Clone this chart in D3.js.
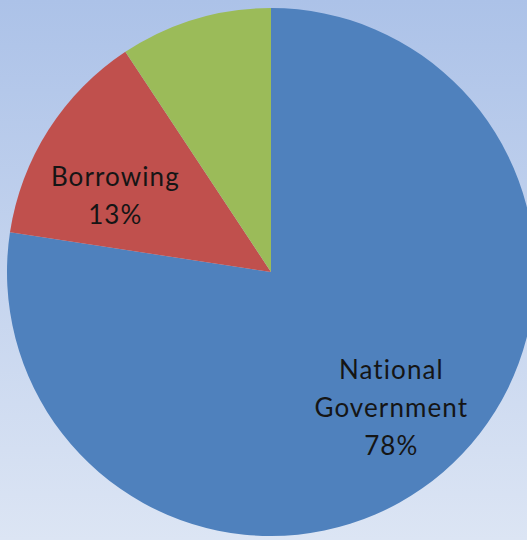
<!DOCTYPE html>
<html>
<head>
<meta charset="utf-8">
<script src="https://cdn.jsdelivr.net/npm/d3@7"></script>
<style>
  html, body { margin: 0; padding: 0; overflow: hidden; }
  svg { display: block; }
</style>
</head>
<body>
<svg id="drawing_region"></svg>
<script>
// slice data (clockwise from 12 o'clock)
const categories = ["National Government", "Borrowing", "Other"];
const values = [77.4, 13.3, 9.3];
const labelLines = [["National", "Government", "78%"], ["Borrowing", "13%"], []];
const colors = ["#4f81bd", "#c0504d", "#9bbb59"];

const config = {
    width: 527,
    height: 540,
    cx: 271,
    cy: 272,
    radius: 264
};

const svg = d3.select('#drawing_region')
    .attr('width', config.width)
    .attr('height', config.height);

const defs = svg.append('defs');
const grad = defs.append('linearGradient')
    .attr('id', 'bg')
    .attr('x1', 0).attr('y1', 0).attr('x2', 0).attr('y2', 1);
grad.append('stop').attr('offset', '0%').attr('stop-color', '#acc2e8');
grad.append('stop').attr('offset', '100%').attr('stop-color', '#dce5f4');

svg.append('rect')
    .attr('width', config.width)
    .attr('height', config.height)
    .attr('fill', 'url(#bg)');

const data = categories.map((c, i) => ({ name: c, value: values[i], lines: labelLines[i], color: colors[i] }));

const pie = d3.pie()
    .value(d => d.value)
    .sort(null);

const arc = d3.arc()
    .innerRadius(0)
    .outerRadius(config.radius);

// labels sit on the slice mid-angle, with a small nudge like Excel's best-fit placement
const labelArc = d3.arc()
    .innerRadius(180)
    .outerRadius(180);
const labelNudge = { "National Government": [3, -1], "Borrowing": [-4, 21] };

const chart = svg.append('g')
    .attr('transform', `translate(${config.cx}, ${config.cy})`);

const arcs = pie(data);

chart.selectAll('path')
    .data(arcs)
    .enter()
    .append('path')
    .attr('d', arc)
    .attr('fill', d => d.data.color);

const lineH = 38;
chart.selectAll('text.label')
    .data(arcs.filter(d => d.data.lines.length))
    .enter()
    .append('text')
    .attr('class', 'label')
    .attr('text-anchor', 'middle')
    .attr('font-family', 'Lato, "Open Sans", sans-serif')
    .attr('font-size', 26)
    .attr('letter-spacing', 1.1)
    .attr('fill', '#151515')
    .each(function(d) {
        let [x, y] = labelArc.centroid(d);
        const nudge = labelNudge[d.data.name] || [0, 0];
        x += nudge[0];
        y += nudge[1];
        const n = d.data.lines.length;
        d3.select(this).selectAll('tspan')
            .data(d.data.lines)
            .enter()
            .append('tspan')
            .attr('x', x)
            .attr('y', (t, i) => y + (i - (n - 1) / 2) * lineH)
            .attr('dy', '0.35em')
            .text(t => t);
    });
</script>
</body>
</html>
